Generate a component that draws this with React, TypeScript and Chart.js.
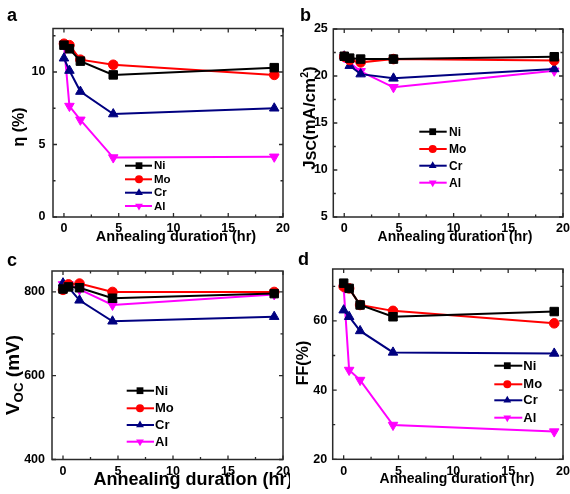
import React, { useEffect, useRef } from 'react';
import { Chart, registerables } from 'chart.js';

Chart.register(...registerables);

const FONT = '"Liberation Sans", Arial, sans-serif';

// ---------- data ----------
const durations = [0, 0.5, 1.5, 4.5, 19.2];
const metals = ['Ni', 'Mo', 'Cr', 'Al'];
const metalColors = ['#000000', '#ff0000', '#000080', '#ff00ff'];

const etaNi = [11.85, 11.6, 10.75, 9.8, 10.3];
const etaMo = [11.95, 11.85, 10.85, 10.5, 9.8];
const etaCr = [10.95, 10.1, 8.65, 7.1, 7.5];
const etaAl = [11.9, 7.65, 6.7, 4.1, 4.15];

const jscNi = [22.1, 21.9, 21.8, 21.8, 22.05];
const jscMo = [22.05, 21.7, 21.45, 21.8, 21.65];
const jscCr = [22.1, 21.1, 20.2, 19.75, 20.75];
const jscAl = [22.0, 21.4, 20.5, 18.8, 20.55];

const vocNi = [807, 812, 810, 785, 796];
const vocMo = [805, 818, 820, 800, 800];
const vocCr = [821, 811, 780, 730, 741];
const vocAl = [818, 818, 806, 769, 794];

const ffNi = [70.9, 69.4, 64.6, 61.2, 62.7];
const ffMo = [69.9, 69.4, 64.6, 62.9, 59.3];
const ffCr = [63.1, 61.2, 57.1, 50.9, 50.6];
const ffAl = [69.6, 45.8, 42.9, 29.9, 28.0];

const xTicks = [0, 5, 10, 15, 20];
const xMinorTicks = [2.5, 7.5, 12.5, 17.5];
const etaTicks = [0, 5, 10];
const etaMinor = [2.5, 7.5, 12.5];
const jscTicks = [5, 10, 15, 20, 25];
const jscMinor = [7.5, 12.5, 17.5, 22.5];
const vocTicks = [400, 600, 800];
const vocMinor = [500, 700];
const ffTicks = [20, 40, 60];
const ffMinor = [30, 50, 70];

type Part = { t: string; s?: number; dy?: number };

interface PanelCfg {
  left: number; top: number; width: number; height: number;
  area: { l: number; t: number; r: number; b: number };
  xMin: number; xMax: number; yMin: number; yMax: number;
  yTicks: number[]; yMinor: number[]; yPad: number; xPad: number;
  series: number[][];
  letter: string; letterX: number; letterY: number;
  xTitle: { x: number; y: number; size: number };
  yTitle: { parts: Part[]; x: number; y: number; size: number };
  legend: { x0: number; x1: number; mx: number; tx: number; rows: number[]; size: number };
}

const panels: PanelCfg[] = [
  {
    left: 0, top: 0, width: 290, height: 250,
    area: { l: 53, t: 28.5, r: 285, b: 217 },
    xMin: -1, xMax: 20, yMin: 0, yMax: 13,
    yTicks: etaTicks, yMinor: etaMinor, yPad: 7.5, xPad: 4,
    series: [etaNi, etaMo, etaCr, etaAl],
    letter: 'a', letterX: 7, letterY: 21,
    xTitle: { x: 176, y: 240.5, size: 14.5 },
    yTitle: { parts: [{ t: 'η (%)' }], x: 24, y: 127, size: 16 },
    legend: { x0: 125, x1: 152, mx: 139, tx: 154, rows: [165.7, 179.3, 192.7, 206], size: 11.5 },
  },
  {
    left: 290, top: 0, width: 280, height: 250,
    area: { l: 43.3, t: 29, r: 274, b: 217 },
    xMin: -1, xMax: 20, yMin: 5, yMax: 25,
    yTicks: jscTicks, yMinor: jscMinor, yPad: 5.5, xPad: 4,
    series: [jscNi, jscMo, jscCr, jscAl],
    letter: 'b', letterX: 10, letterY: 21,
    xTitle: { x: 165, y: 240.5, size: 14 },
    yTitle: {
      parts: [{ t: 'J' }, { t: 'SC', s: 0.85, dy: 0.08 }, { t: '(mA/cm' }, { t: '2', s: 0.62, dy: -0.42 }, { t: ')' }],
      x: 25, y: 118, size: 17,
    },
    legend: { x0: 129.3, x1: 156.7, mx: 142.7, tx: 159, rows: [131.7, 149, 165.7, 182.7], size: 12 },
  },
  {
    left: 0, top: 250, width: 290, height: 244,
    area: { l: 52, t: 21, r: 285, b: 209.5 },
    xMin: -1, xMax: 20, yMin: 400, yMax: 850,
    yTicks: vocTicks, yMinor: vocMinor, yPad: 7, xPad: 5,
    series: [vocNi, vocMo, vocCr, vocAl],
    letter: 'c', letterX: 7, letterY: 16,
    xTitle: { x: 193, y: 234.5, size: 18 },
    yTitle: {
      parts: [{ t: 'V' }, { t: 'OC', s: 0.7, dy: 0.22 }, { t: ' (mV)' }],
      x: 19, y: 125, size: 19,
    },
    legend: { x0: 126.7, x1: 154, mx: 140, tx: 155, rows: [140.7, 158.3, 175, 191.7], size: 13 },
  },
  {
    left: 290, top: 250, width: 280, height: 244,
    area: { l: 42.7, t: 19, r: 274, b: 209.3 },
    xMin: -1, xMax: 20, yMin: 20, yMax: 75,
    yTicks: ffTicks, yMinor: ffMinor, yPad: 5.5, xPad: 5,
    series: [ffNi, ffMo, ffCr, ffAl],
    letter: 'd', letterX: 8, letterY: 15,
    xTitle: { x: 167, y: 233.3, size: 14 },
    yTitle: { parts: [{ t: 'FF(%)' }], x: 18, y: 113, size: 16 },
    legend: { x0: 204.3, x1: 232.3, mx: 217.3, tx: 233.3, rows: [115.7, 134.3, 150.3, 167.7], size: 13 },
  },
];

const pointStyles = ['rect', 'circle', 'triangle', 'triangle'];
const pointRadii = [6, 4.8, 5.5, 5.5];
const pointRotations = [0, 0, 0, 180];

function drawMarker(ctx: CanvasRenderingContext2D, style: number, x: number, y: number, r: number, color: string) {
  ctx.save();
  ctx.fillStyle = color;
  ctx.beginPath();
  if (style === 0) {
    const s = r * Math.SQRT1_2;
    ctx.rect(x - s, y - s, 2 * s, 2 * s);
  } else if (style === 1) {
    ctx.arc(x, y, r, 0, Math.PI * 2);
  } else {
    const dir = style === 2 ? -1 : 1;
    const h = r;
    ctx.moveTo(x, y + dir * h);
    ctx.lineTo(x + h * Math.sin(Math.PI * 2 / 3), y - dir * h * 0.5);
    ctx.lineTo(x - h * Math.sin(Math.PI * 2 / 3), y - dir * h * 0.5);
    ctx.closePath();
  }
  ctx.fill();
  ctx.restore();
}

function drawRich(ctx: CanvasRenderingContext2D, parts: Part[], x: number, y: number, size: number, rotate: boolean) {
  ctx.save();
  ctx.translate(x, y);
  if (rotate) ctx.rotate(-Math.PI / 2);
  ctx.textAlign = 'left';
  ctx.textBaseline = 'alphabetic';
  ctx.fillStyle = '#000';
  let total = 0;
  for (const p of parts) {
    ctx.font = `bold ${size * (p.s ?? 1)}px ${FONT}`;
    total += ctx.measureText(p.t).width;
  }
  let cx = -total / 2;
  for (const p of parts) {
    ctx.font = `bold ${size * (p.s ?? 1)}px ${FONT}`;
    ctx.fillText(p.t, cx, (p.dy ?? 0) * size);
    cx += ctx.measureText(p.t).width;
  }
  ctx.restore();
}

function makeDecor(cfg: PanelCfg) {
  return {
    id: 'decor' + cfg.letter,
    beforeDatasetsDraw(chart: any) {
      const ctx: CanvasRenderingContext2D = chart.ctx;
      const { left, top, right, bottom } = chart.chartArea;
      const xs = chart.scales.x;
      const ys = chart.scales.y;
      ctx.save();
      ctx.strokeStyle = '#2a2a2a';
      ctx.lineWidth = 1.5;
      ctx.strokeRect(left, top, right - left, bottom - top);
      ctx.lineWidth = 1.3;
      ctx.beginPath();
      const tick = (vals: number[], len: number) => {
        for (const v of vals) {
          const px = xs.getPixelForValue(v);
          if (px < left - 0.5 || px > right + 0.5) continue;
          ctx.moveTo(px, bottom); ctx.lineTo(px, bottom - len);
          ctx.moveTo(px, top); ctx.lineTo(px, top + len);
        }
      };
      const ytick = (vals: number[], len: number) => {
        for (const v of vals) {
          const py = ys.getPixelForValue(v);
          if (py < top - 0.5 || py > bottom + 0.5) continue;
          ctx.moveTo(left, py); ctx.lineTo(left + len, py);
          ctx.moveTo(right, py); ctx.lineTo(right - len, py);
        }
      };
      tick(xTicks, 4);
      tick(xMinorTicks, 2.5);
      ytick(cfg.yTicks, 4);
      ytick(cfg.yMinor, 2.5);
      ctx.stroke();
      ctx.restore();
    },
    afterDraw(chart: any) {
      const ctx: CanvasRenderingContext2D = chart.ctx;
      ctx.save();
      ctx.fillStyle = '#000';
      ctx.font = `bold 18px ${FONT}`;
      ctx.textAlign = 'left';
      ctx.textBaseline = 'alphabetic';
      ctx.fillText(cfg.letter, cfg.letterX, cfg.letterY);
      drawRich(ctx, [{ t: 'Annealing duration (hr)' }], cfg.xTitle.x, cfg.xTitle.y, cfg.xTitle.size, false);
      drawRich(ctx, cfg.yTitle.parts, cfg.yTitle.x, cfg.yTitle.y, cfg.yTitle.size, true);
      const lg = cfg.legend;
      metals.forEach((m, i) => {
        const y = lg.rows[i];
        ctx.strokeStyle = metalColors[i];
        ctx.lineWidth = 2;
        ctx.beginPath();
        ctx.moveTo(lg.x0, y);
        ctx.lineTo(lg.x1, y);
        ctx.stroke();
        const r = [4.8, 4, 4.5, 4.5][i];
        drawMarker(ctx, i, lg.mx, y, r, metalColors[i]);
        ctx.fillStyle = '#000';
        ctx.font = `bold ${lg.size}px ${FONT}`;
        ctx.textAlign = 'left';
        ctx.textBaseline = 'middle';
        ctx.fillText(m, lg.tx, y + 0.5);
      });
      ctx.restore();
    },
  };
}

function makeConfig(cfg: PanelCfg): any {
  const tickFont = { family: FONT, size: 12.5, weight: 'bold' as const };
  return {
    type: 'line',
    data: {
      datasets: metals.map((m, i) => ({
        label: m,
        data: durations.map((d, j) => ({ x: d, y: cfg.series[i][j] })),
        borderColor: metalColors[i],
        backgroundColor: metalColors[i],
        borderWidth: 2,
        pointStyle: pointStyles[i],
        pointRadius: pointRadii[i],
        pointRotation: pointRotations[i],
        pointBorderWidth: 1,
        tension: 0,
        clip: false,
      })),
    },
    options: {
      responsive: false,
      animation: false,
      events: [],
      layout: { padding: { top: cfg.area.t, right: cfg.width - cfg.area.r, left: 0, bottom: 0 } },
      plugins: { legend: { display: false }, tooltip: { enabled: false }, title: { display: false } },
      scales: {
        x: {
          type: 'linear',
          min: cfg.xMin,
          max: cfg.xMax,
          grid: { display: false, drawTicks: false },
          border: { display: false },
          ticks: { font: tickFont, color: '#000', padding: cfg.xPad, maxRotation: 0, autoSkip: false },
          afterBuildTicks: (s: any) => { s.ticks = xTicks.map((v) => ({ value: v })); },
          afterFit: (s: any) => {
            s.height = cfg.height - cfg.area.b;
            s.paddingLeft = 0; s.paddingRight = 0; s.paddingTop = 0; s.paddingBottom = 0;
          },
        },
        y: {
          type: 'linear',
          min: cfg.yMin,
          max: cfg.yMax,
          grid: { display: false, drawTicks: false },
          border: { display: false },
          ticks: { font: tickFont, color: '#000', padding: cfg.yPad, autoSkip: false },
          afterBuildTicks: (s: any) => { s.ticks = cfg.yTicks.map((v) => ({ value: v })); },
          afterFit: (s: any) => {
            s.width = cfg.area.l;
            s.paddingLeft = 0; s.paddingRight = 0; s.paddingTop = 0; s.paddingBottom = 0;
          },
        },
      },
    },
    plugins: [makeDecor(cfg)],
  };
}

function Panel({ cfg }: { cfg: PanelCfg }) {
  const ref = useRef<HTMLCanvasElement | null>(null);
  useEffect(() => {
    if (!ref.current) return;
    const chart = new Chart(ref.current, makeConfig(cfg));
    return () => chart.destroy();
  }, [cfg]);
  return (
    <canvas
      ref={ref}
      width={cfg.width}
      height={cfg.height}
      style={{ position: 'absolute', left: cfg.left, top: cfg.top, width: cfg.width, height: cfg.height }}
    />
  );
}

export default function App() {
  return (
    <div style={{ position: 'absolute', left: 0, top: 0, width: 570, height: 494, background: '#fff', overflow: 'hidden' }}>
      {panels.map((p) => (
        <Panel key={p.letter} cfg={p} />
      ))}
    </div>
  );
}
